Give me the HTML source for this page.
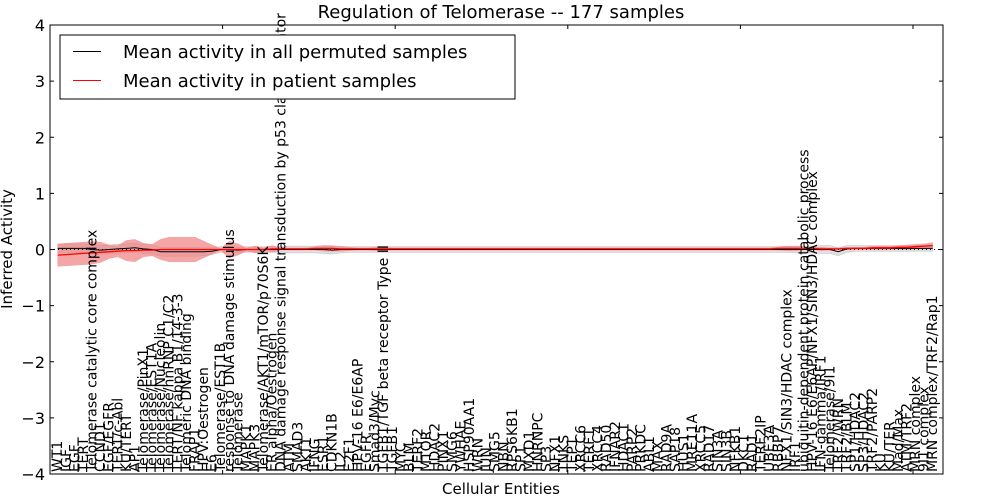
<!DOCTYPE html>
<html><head><meta charset="utf-8"><style>
html,body{margin:0;padding:0;background:#fff;}
svg{display:block;font-family:"DejaVu Sans","Liberation Sans",sans-serif;}
</style></head><body>
<svg id="chart" width="1000" height="500" viewBox="0 0 1000 500" xmlns="http://www.w3.org/2000/svg">
<rect x="0" y="0" width="1000" height="500" fill="#fff"/>
<text x="501" y="18" font-size="18" text-anchor="middle">Regulation of Telomerase -- 177 samples</text>
<g id="plot"></g>
<text x="501" y="494" font-size="15" text-anchor="middle">Cellular Entities</text>
<text transform="translate(12,249) rotate(-90)" font-size="15" text-anchor="middle">Inferred Activity</text>
</svg>
<script>
const labels = ["WT1","IGF","EGF","TERT","Telomerase catalytic core complex","CCND1","EGF/EGFR","TERT/c-Abl","KU/TERT","AP1","Telomerase/PinX1","Telomerase/EST1A","Telomerase/Nucleolin","Telomerase/hnRNP C1/C2","TERT/NF kappa B1/14-3-3","Telomeric DNA binding","FRAP1","HPV:Oestrogen","E6","Telomerase/EST1B","response to DNA damage stimulus","Telomerase","MAPK1","MAPK3","Telomerase/AKT1/mTOR/p70S6K","ER alpha/Oestrogen","DNA damage response signal transduction by p53 class mediator","ATM","SMAD3","AKT1","IFNG","ESR1","CDKN1B","IL2","E2F1","HPV-16 E6/E6AP","EGFR","Smad3/Myc","TGFB1/TGF beta receptor Type II","TGFB1","MYC","BLM","TERF2","MTOR","HDAC2","PINX1","SMG6","YWHAE","HSP90AA1","WRN","JUN","SMG5","NBN","RPS6KB1","SP1","MXD1","HNRNPC","SP3","NFX1","TNKS","TEP1","XRCC6","TERF1","XRCC4","RAD50","IFNAR2","HDAC1","PARP2","PRKDC","ABL1","MAX","RAD9A","SAP18","HUS1","MRE11A","XRCC5","RAD17","SIN3A","SIN3B","NFKB1","DKC1","RAD1","TERF2IP","UBE3A","RBBP7","NFX1/SIN3/HDAC complex","IRF1","ubiquitin-dependent protein catabolic process","HPV-16 E6/E6AP/NFX1/SIN3/HDAC complex","IFN-gamma/IRF1","Telomerase/9I1","TRF2/WRN","TRF2/BLM","SP1/HDAC2","SP3/HDAC2","TRF2/PARP2","KU","KU/TER","Mad/Max","ATM/TRF2","MRN complex","9I1 complex","MRN complex/TRF2/Rap1"];
const patientMean = [-0.10,-0.09,-0.08,-0.07,-0.06,-0.05,-0.04,-0.03,-0.02,-0.02,
-0.01,-0.01,0,0,0,0,0,0,0,0,
0,0,0,0,0,0.01,0.01,0.01,0.01,0.01,
0.02,0.02,0.02,0.01,0.01,0.01,0.01,0.01,0.01,0.01,
0.01,0.01,0.01,0.01,0.01,0.01,0.01,0.01,0.01,0.01,
0.01,0.01,0.01,0.01,0.01,0.01,0.01,0.01,0.01,0.01,
0.01,0.01,0.01,0.01,0.01,0.01,0.01,0.01,0.01,0.01,
0.01,0.01,0.01,0.01,0.01,0.01,0.01,0.01,0.01,0.01,
0.01,0.01,0.01,0.01,0.02,0.02,0.02,0.02,0.02,0.01,
0.01,0.01,0.02,0.02,0.02,0.03,0.03,0.03,0.04,0.04,
0.05,0.06,0.07];
const patientStd = [0.20,0.20,0.20,0.20,0.20,0.18,0.12,0.10,0.18,0.20,
0.12,0.10,0.18,0.22,0.22,0.22,0.22,0.15,0.08,0.02,
0.15,0.10,0.03,0.06,0.03,0.06,0.02,0.02,0.02,0.02,
0.03,0.05,0.05,0.04,0.03,0.02,0.02,0.03,0.03,0.02,
0.02,0.02,0.02,0.02,0.02,0.02,0.02,0.02,0.02,0.02,
0.02,0.02,0.02,0.02,0.02,0.02,0.02,0.02,0.02,0.02,
0.02,0.02,0.02,0.02,0.02,0.02,0.02,0.02,0.02,0.02,
0.02,0.02,0.02,0.02,0.02,0.02,0.02,0.02,0.02,0.02,
0.02,0.02,0.02,0.02,0.03,0.04,0.04,0.03,0.02,0.03,
0.02,0.02,0.02,0.02,0.02,0.03,0.03,0.03,0.03,0.04,
0.04,0.04,0.05];
const permMean = [0.02,0.02,0.02,0.02,0.00,-0.01,0.00,0.01,0.02,0.03,
0.01,0.00,-0.04,-0.04,-0.04,-0.04,-0.04,-0.04,-0.03,0.00,
0.00,-0.01,0.00,0.00,0.00,0.00,0.00,0.00,0.00,0.00,
0.00,0.00,-0.01,0.00,0.00,0.00,0.00,0.00,0.00,0.00,
0.00,0.00,0.00,0.00,0.00,0.00,0.00,0.00,0.00,0.00,
0.00,0.00,0.00,0.00,0.00,0.00,0.00,0.00,0.00,0.00,
0.00,0.00,0.00,0.00,0.00,0.00,0.00,0.00,0.00,0.00,
0.00,0.00,0.00,0.00,0.00,0.00,0.00,0.00,0.00,0.00,
0.00,0.00,0.00,0.00,0.00,0.00,0.00,0.00,0.00,0.00,
0.00,-0.04,0.01,0.02,0.02,0.02,0.02,0.02,0.02,0.02,
0.02,0.02,0.02];
const permStd = [0.08,0.08,0.08,0.08,0.08,0.08,0.08,0.08,0.08,0.08,
0.08,0.08,0.08,0.08,0.08,0.08,0.08,0.07,0.06,0.05,
0.05,0.05,0.05,0.05,0.05,0.05,0.05,0.06,0.06,0.06,
0.06,0.07,0.07,0.06,0.05,0.05,0.05,0.05,0.05,0.05,
0.05,0.05,0.05,0.05,0.05,0.05,0.05,0.05,0.05,0.05,
0.05,0.05,0.05,0.05,0.05,0.05,0.05,0.05,0.05,0.05,
0.05,0.05,0.05,0.05,0.05,0.05,0.05,0.05,0.05,0.05,
0.05,0.05,0.05,0.05,0.05,0.05,0.05,0.05,0.05,0.05,
0.05,0.05,0.05,0.05,0.05,0.05,0.06,0.06,0.06,0.07,
0.07,0.07,0.06,0.05,0.05,0.05,0.05,0.05,0.05,0.05,
0.05,0.05,0.05];
const yTicks = [-4,-3,-2,-1,0,1,2,3,4];
const xTicks = [0,20,40,60,80,100];

const NS = "http://www.w3.org/2000/svg";
const L = 50, R = 943, T = 25, B = 474;
const xMin = -0.9, xMax = 102.6 + 0.6;
function xs(v){ return L + (v - xMin) / (xMax - xMin) * (R - L); }
function ys(v){ return T + (4 - v) / 8 * (B - T); }
const plot = document.getElementById('plot');
function mk(tag, attrs, parent){
  const e = document.createElementNS(NS, tag);
  for (const k in attrs) e.setAttribute(k, attrs[k]);
  (parent || plot).appendChild(e);
  return e;
}
function band(mean, sd){
  let up = [], dn = [];
  for (let i = 0; i < mean.length; i++){
    up.push(xs(i).toFixed(1) + ',' + ys(mean[i] + sd[i]).toFixed(1));
    dn.unshift(xs(i).toFixed(1) + ',' + ys(mean[i] - sd[i]).toFixed(1));
  }
  return up.concat(dn).join(' ');
}
function line(mean){
  return mean.map((v, i) => xs(i).toFixed(1) + ',' + ys(v).toFixed(1)).join(' ');
}
const gb = mk('polygon', {points: band(permMean, permStd), fill: '#cccccc', 'fill-opacity': '0.6', stroke: '#bbbbbb', 'stroke-width': '0.5'});


const rb = mk('polygon', {points: band(patientMean, patientStd), fill: '#f08080', 'fill-opacity': '0.7', stroke: '#f4a0a0', 'stroke-width': '0.5'});


const zl = mk('line', {x1: L, x2: R, y1: ys(0), y2: ys(0), stroke: '#000', 'stroke-width': '1', 'stroke-dasharray': '1,3'});


const bl = mk('polyline', {points: line(permMean), fill: 'none', stroke: '#000', 'stroke-width': '1'});


const rl = mk('polyline', {points: line(patientMean), fill: 'none', stroke: '#ff0000', 'stroke-width': '1.3'});


const fr = mk('rect', {x: L, y: T, width: R - L, height: B - T, fill: 'none', stroke: '#000', 'stroke-width': '1'});


yTicks.forEach(v => {
  const y = ys(v);
  mk('line', {x1: L, x2: L + 4, y1: y, y2: y, stroke: '#000'});
  mk('line', {x1: R, x2: R - 4, y1: y, y2: y, stroke: '#000'});
  const t = mk('text', {x: L - 5, y: y + 6, 'font-size': '16', 'text-anchor': 'end'});
  
  
  t.textContent = v < 0 ? '\u2212' + Math.abs(v) : String(v);
});
xTicks.forEach(v => {
  const x = L + v * 8.63;
  mk('line', {x1: x, x2: x, y1: T, y2: T + 4, stroke: '#000'});
  mk('line', {x1: x, x2: x, y1: B, y2: B - 4, stroke: '#000'});
});
labels.forEach((s, i) => {
  const x = xs(i) + 4.5;
  const t = mk('text', {transform: 'translate(' + x.toFixed(1) + ',472) rotate(-90)', 'font-size': '14', 'text-anchor': 'start'});
  
  
  t.textContent = s;
});
const lg = mk('g', {});


mk('rect', {x: 60, y: 35, width: 455, height: 64, fill: '#fff', stroke: '#000', 'stroke-width': '1'}, lg);
mk('line', {x1: 73, x2: 101, y1: 51.5, y2: 51.5, stroke: '#000', 'stroke-width': '1'}, lg);
mk('line', {x1: 73, x2: 101, y1: 80.5, y2: 80.5, stroke: '#ff0000', 'stroke-width': '1'}, lg);
const l1 = mk('text', {x: 123, y: 58, 'font-size': '18'}, lg);


l1.textContent = 'Mean activity in all permuted samples';
const l2 = mk('text', {x: 123, y: 87, 'font-size': '18'}, lg);


l2.textContent = 'Mean activity in patient samples';
</script>
</body></html>
